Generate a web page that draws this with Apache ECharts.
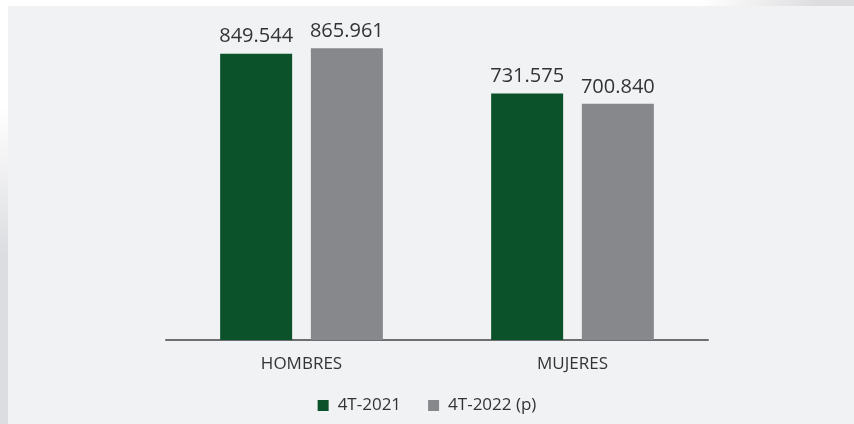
<!DOCTYPE html>
<html>
<head>
<meta charset="utf-8">
<script src="https://cdn.jsdelivr.net/npm/echarts@6/dist/echarts.min.js"></script>
<style>
  html, body { margin: 0; padding: 0; }
  body { width: 854px; height: 424px; position: relative; overflow: hidden; background: #f1f2f4; }
  .edge-top { position: absolute; left: 0; top: 0; width: 854px; height: 6px;
    background: linear-gradient(to right, #ffffff 82%, #dcdcde 96%); }
  .edge-left { position: absolute; left: 0; top: 0; width: 8px; height: 424px;
    background: linear-gradient(to bottom, #ffffff 25%, #dcdde0 60%); }
  #chart { position: absolute; left: 0; top: 0; width: 854px; height: 424px; }
</style>
</head>
<body>
<div class="edge-top"></div>
<div class="edge-left"></div>
<div id="chart"></div>
<script>
const categories = ['HOMBRES', 'MUJERES']
const seriesNames = ['4T-2021', '4T-2022 (p)']
const values2021 = [849544, 731575]
const values2022 = [865961, 700840]

// miles con punto
function fmt(v) {
  return String(v).replace(/\B(?=(\d{3})+(?!\d))/g, '.')
}

const chart = echarts.init(document.getElementById('chart'))
const labelCfg = {
  show: true,
  position: 'top',
  distance: 7,
  color: '#333333',
  fontFamily: 'Open Sans',
  fontSize: 20,
  formatter: p => fmt(p.value)
}

chart.setOption({
  animation: false,
  textStyle: { fontFamily: 'Open Sans' },
  grid: { left: 166, right: 146, top: 3, bottom: 84 },
  legend: {
    data: seriesNames,
    top: 392,
    left: 'center',
    icon: 'rect',
    itemWidth: 11,
    itemHeight: 11,
    itemGap: 27,
    textStyle: { color: '#333333', fontSize: 17, fontFamily: 'Open Sans', padding: [0, 0, 0, 4] }
  },
  xAxis: {
    type: 'category',
    data: categories,
    axisLine: { lineStyle: { color: '#6d6e71', width: 2 } },
    axisTick: { show: false },
    axisLabel: { color: '#333333', fontSize: 17, margin: 16 }
  },
  yAxis: {
    type: 'value',
    min: 0,
    max: 1000000,
    show: false,
    splitLine: { show: false }
  },
  series: [
    {
      name: seriesNames[0],
      type: 'bar',
      data: values2021,
      barWidth: 72,
      barGap: '26%',
      itemStyle: { color: '#0b5129' },
      label: labelCfg
    },
    {
      name: seriesNames[1],
      type: 'bar',
      data: values2022,
      barWidth: 72,
      itemStyle: { color: '#87888c' },
      label: labelCfg
    }
  ]
})
</script>
</body>
</html>
